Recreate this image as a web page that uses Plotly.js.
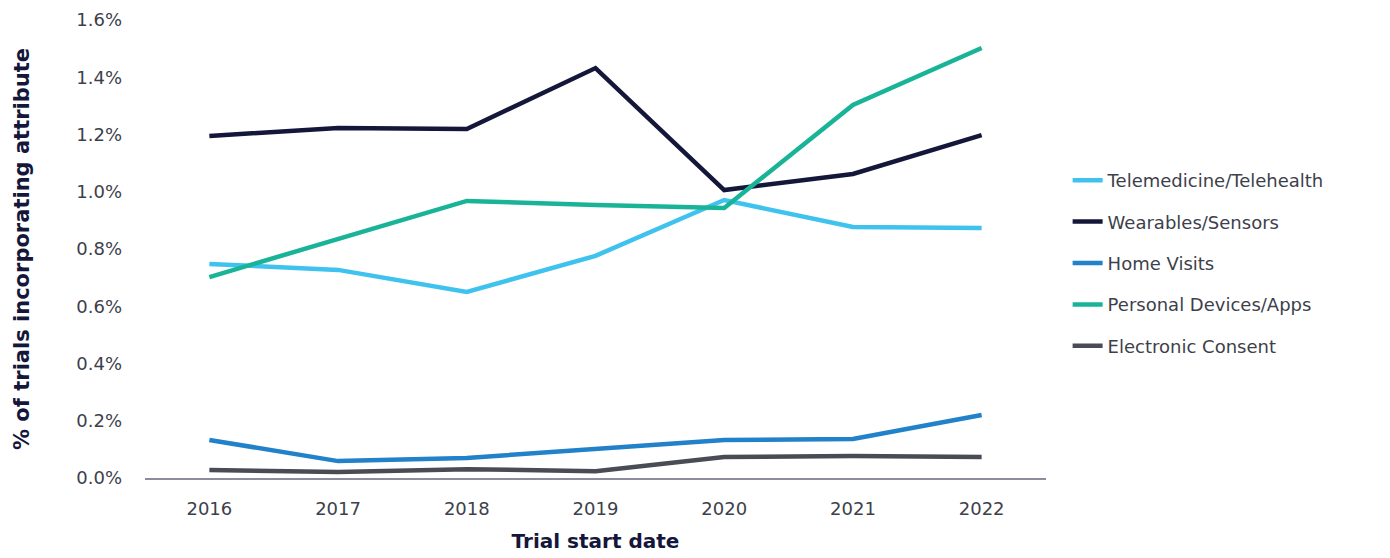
<!DOCTYPE html>
<html>
<head>
<meta charset="utf-8">
<script src="https://cdn.plot.ly/plotly-3.0.1.min.js"></script>
<style>html,body{margin:0;padding:0;background:#fff;}#chart{width:1390px;height:558px;}</style>
</head>
<body>
<div id="chart"></div>
<script>
const years = ["2016","2017","2018","2019","2020","2021","2022"];
const seriesNames = ["Telemedicine/Telehealth","Wearables/Sensors","Home Visits","Personal Devices/Apps","Electronic Consent"];
const telemedicine = [0.748, 0.727, 0.650, 0.776, 0.971, 0.877, 0.873];
const wearables    = [1.195, 1.223, 1.219, 1.432, 1.006, 1.062, 1.198];
const homeVisits   = [0.133, 0.059, 0.070, 0.101, 0.133, 0.136, 0.220];
const personal     = [0.702, 0.835, 0.968, 0.954, 0.943, 1.303, 1.502];
const eConsent     = [0.028, 0.021, 0.031, 0.024, 0.073, 0.077, 0.073];
const colors = ["#3fc3ee", "#15173a", "#2181c9", "#19b497", "#4a4c55"];
const yTicks = [0, 0.2, 0.4, 0.6, 0.8, 1.0, 1.2, 1.4, 1.6];

const values = [telemedicine, wearables, homeVisits, personal, eConsent];
const traces = values.map((v, i) => ({
  x: years, y: v, type: "scatter", mode: "lines",
  name: seriesNames[i], legendgroup: "g" + i,
  line: {color: colors[i], width: 4.5},
  hoverinfo: "skip"
}));

const tickFont = {family: "'DejaVu Sans', sans-serif", size: 18, color: "#3d3f4b"};
const titleFont = {family: "'DejaVu Sans', sans-serif", size: 20, color: "#15173a", weight: "bold"};
const yTitleFont = {family: "'DejaVu Sans', sans-serif", size: 21, color: "#15173a", weight: "bold"};

const layout = {
  width: 1390, height: 558,
  margin: {l: 145, r: 344, t: 20, b: 80},
  paper_bgcolor: "#fff", plot_bgcolor: "#fff",
  font: tickFont,
  xaxis: {
    type: "category", range: [-0.5, 6.5],
    showgrid: false, zeroline: false,
    showline: true, linecolor: "#8c8c9c", linewidth: 1.5,
    ticks: "", ticklabelstandoff: 14,
    tickfont: tickFont,
    title: {text: "Trial start date", font: titleFont, standoff: 16}
  },
  yaxis: {
    range: [0, 1.6], tickvals: yTicks,
    ticktext: yTicks.map(t => t.toFixed(1) + "%"),
    showgrid: false, zeroline: false, showline: false,
    ticks: "", ticklabelstandoff: 22,
    tickfont: tickFont,
    title: {text: "% of trials incorporating attribute", font: yTitleFont, standoff: 40}
  },
  showlegend: true,
  legend: {
    x: 1.024, y: 0.69, xanchor: "left", yanchor: "top",
    traceorder: "grouped", tracegroupgap: 15,
    font: tickFont,
    bgcolor: "rgba(0,0,0,0)"
  }
};

Plotly.newPlot("chart", traces, layout, {staticPlot: true, displayModeBar: false});
</script>
</body>
</html>
